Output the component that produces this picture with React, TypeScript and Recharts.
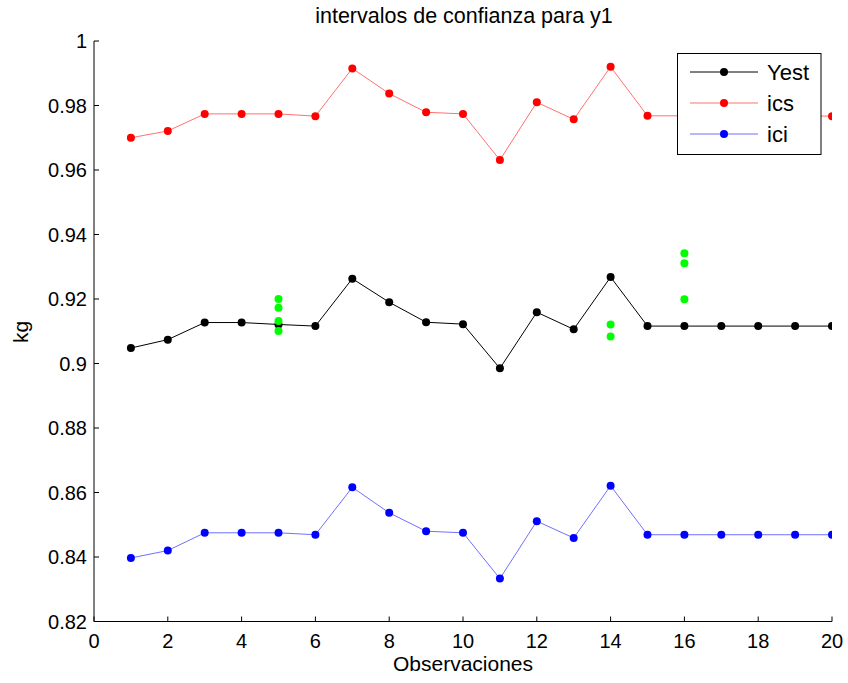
import React from 'react';
import { ComposedChart, Line, Scatter, XAxis, YAxis } from 'recharts';

const observations = [1, 2, 3, 4, 5, 6, 7, 8, 9, 10, 11, 12, 13, 14, 15, 16, 17, 18, 19, 20];
const yest = [0.9048, 0.9074, 0.9127, 0.9127, 0.9121, 0.9116, 0.9263, 0.9190, 0.9128, 0.9122, 0.8985, 0.9159, 0.9106, 0.9268, 0.9116, 0.9116, 0.9116, 0.9116, 0.9116, 0.9116];
const ics = [0.9700, 0.9721, 0.9774, 0.9774, 0.9774, 0.9767, 0.9915, 0.9837, 0.9779, 0.9774, 0.9631, 0.9810, 0.9757, 0.9920, 0.9768, 0.9768, 0.9768, 0.9768, 0.9768, 0.9767];
const ici = [0.8397, 0.8420, 0.8475, 0.8475, 0.8475, 0.8469, 0.8616, 0.8537, 0.8480, 0.8475, 0.8333, 0.8511, 0.8459, 0.8621, 0.8469, 0.8469, 0.8469, 0.8469, 0.8469, 0.8469];

const greenX = [5, 5, 5, 5, 14, 14, 16, 16, 16];
const greenY = [0.9200, 0.9173, 0.9132, 0.9101, 0.9121, 0.9084, 0.9342, 0.9311, 0.9199];

const xTicks = [0, 2, 4, 6, 8, 10, 12, 14, 16, 18, 20];
const xTickLabels = ['0', '2', '4', '6', '8', '10', '12', '14', '16', '18', '20'];
const yTicks = [0.82, 0.84, 0.86, 0.88, 0.9, 0.92, 0.94, 0.96, 0.98, 1];
const yTickLabels = ['0.82', '0.84', '0.86', '0.88', '0.9', '0.92', '0.94', '0.96', '0.98', '1'];

const seriesNames = ['Yest', 'ics', 'ici'];
const seriesColors = ['#000000', '#ff0000', '#0000ff'];
const lineColors = ['#000000', '#ff7070', '#7070ff'];

const title = 'intervalos de confianza para y1';
const xLabel = 'Observaciones';
const yLabel = 'kg';

const FONT = '"Liberation Sans", Arial, sans-serif';

const rows = observations.map((x, i) => ({ x, yest: yest[i], ics: ics[i], ici: ici[i] }));
const greenData = greenX.map((x, i) => ({ x, y: greenY[i] }));

const YTick = (props: any) => {
  const { x, y, payload } = props;
  const idx = yTicks.findIndex((t) => Math.abs(t - payload.value) < 1e-9);
  return (
    <g>
      <line x1={x} y1={y} x2={x + 5} y2={y} stroke="#000" strokeWidth={1} />
      <text x={x - 7} y={y} dy="0.36em" textAnchor="end" fontSize={20} fontFamily={FONT} fill="#000">
        {idx >= 0 ? yTickLabels[idx] : payload.value}
      </text>
    </g>
  );
};

const XTick = (props: any) => {
  const { x, y, payload } = props;
  const idx = xTicks.findIndex((t) => t === payload.value);
  return (
    <g>
      <line x1={x} y1={y} x2={x} y2={y - 5} stroke="#000" strokeWidth={1} />
      <text x={x} y={y + 26} textAnchor="middle" fontSize={20} fontFamily={FONT} fill="#000">
        {idx >= 0 ? xTickLabels[idx] : payload.value}
      </text>
    </g>
  );
};

const GreenDot = (props: any) => <circle cx={props.cx} cy={props.cy} r={4} fill="#00ff00" />;

export default function App() {
  return (
    <div style={{ position: 'absolute', left: 0, top: 0, width: 848, height: 683, background: '#fff' }}>
      <ComposedChart
        width={848}
        height={683}
        data={rows}
        margin={{ top: 41, right: 16, left: 0, bottom: 0 }}
      >
        <XAxis
          type="number"
          dataKey="x"
          domain={[0, 20]}
          ticks={xTicks}
          height={61.5}
          tickSize={0}
          tickMargin={0}
          tickLine={false}
          axisLine={{ stroke: '#000', strokeWidth: 1 }}
          tick={<XTick />}
          interval={0}
          allowDataOverflow
        />
        <YAxis
          type="number"
          domain={[0.82, 1]}
          ticks={yTicks}
          width={94}
          tickSize={0}
          tickMargin={0}
          tickLine={false}
          axisLine={{ stroke: '#000', strokeWidth: 1 }}
          tick={<YTick />}
          interval={0}
          allowDataOverflow
        />
        <Line dataKey="ics" stroke={lineColors[1]} strokeWidth={1} dot={{ r: 4, fill: seriesColors[1], stroke: 'none' }} isAnimationActive={false} />
        <Line dataKey="ici" stroke={lineColors[2]} strokeWidth={1} dot={{ r: 4, fill: seriesColors[2], stroke: 'none' }} isAnimationActive={false} />
        <Line dataKey="yest" stroke={lineColors[0]} strokeWidth={1} dot={{ r: 4, fill: seriesColors[0], stroke: 'none' }} isAnimationActive={false} />
        <Scatter data={greenData} dataKey="y" shape={<GreenDot />} isAnimationActive={false} />
      </ComposedChart>

      <div style={{ position: 'absolute', left: 0, top: 0, width: 848, height: 683, pointerEvents: 'none' }}>
        <svg width={848} height={683} style={{ position: 'absolute', left: 0, top: 0 }}>
          <text x={464} y={23} textAnchor="middle" fontSize={21.5} fontFamily={FONT} fill="#000">{title}</text>
          <text x={463} y={671} textAnchor="middle" fontSize={21} fontFamily={FONT} fill="#000">{xLabel}</text>
          <text x={28} y={332} textAnchor="middle" fontSize={21} fontFamily={FONT} fill="#000" transform="rotate(-90 28 332)">{yLabel}</text>
          <g>
            <rect x={677.5} y={53.5} width={143.5} height={101} fill="#fff" stroke="#000" strokeWidth={1} />
            {seriesNames.map((name, i) => {
              const cy = 72 + i * 31;
              return (
                <g key={name}>
                  <line x1={690} y1={cy} x2={758} y2={cy} stroke={lineColors[i]} strokeWidth={1} />
                  <circle cx={724} cy={cy} r={4} fill={seriesColors[i]} />
                  <text x={767} y={cy} dy="0.36em" fontSize={22} fontFamily={FONT} fill="#000">{name}</text>
                </g>
              );
            })}
          </g>
        </svg>
      </div>
    </div>
  );
}
